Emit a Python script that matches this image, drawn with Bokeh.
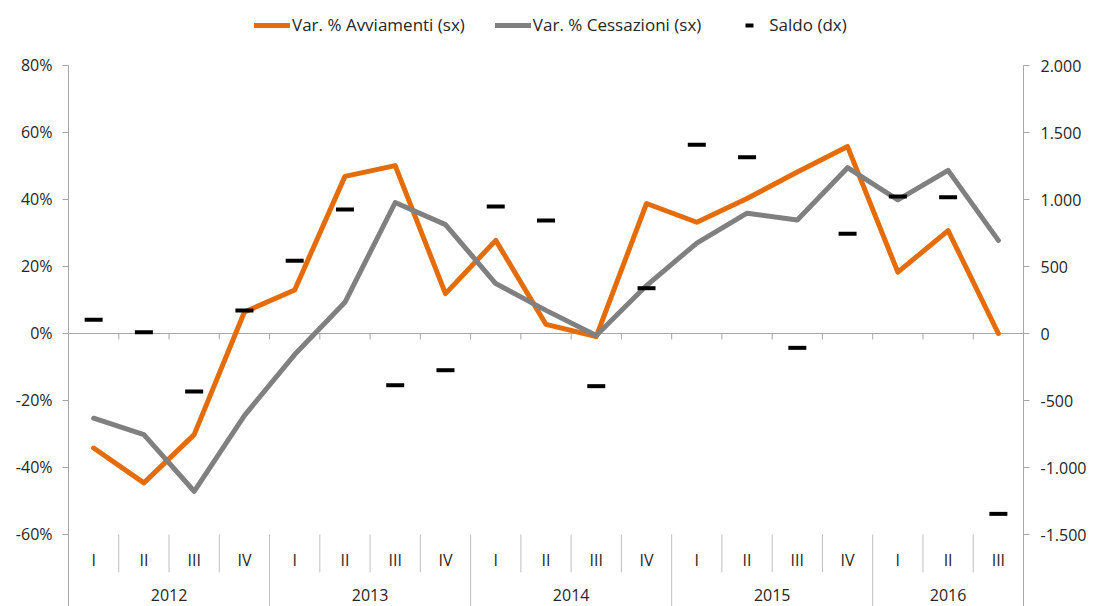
from bokeh.plotting import figure
from bokeh.models import (Range1d, LinearAxis, FixedTicker, CustomJSTickFormatter,
                          Legend, LegendItem, ColumnDataSource)
from bokeh.embed import file_html
from bokeh.resources import INLINE
from bokeh.core.properties import value

# ---------------- data ----------------
years = ["2012", "2013", "2014", "2015", "2016"]
year_sizes = [4, 4, 4, 4, 3]
quarters = ["I", "II", "III", "IV", "I", "II", "III", "IV", "I", "II", "III", "IV",
            "I", "II", "III", "IV", "I", "II", "III"]
avviamenti = [-34.2, -44.6, -30.2, 6.4, 13.0, 46.9, 50.1, 11.9, 27.8, 2.7, -0.9, 38.8,
              33.2, 40.3, 48.2, 55.8, 18.3, 30.7, 0.0]
cessazioni = [-25.3, -30.2, -47.1, -24.5, -6.3, 9.3, 39.1, 32.5, 14.9, 6.9, -0.6, 14.3,
              27.0, 35.9, 33.9, 49.5, 39.9, 48.7, 27.8]
saldo = [102, 10, -433, 172, 543, 925, -386, -274, 948, 843, -393, 338,
         1408, 1316, -107, 744, 1022, 1017, -1346]
left_ticks = [-60, -40, -20, 0, 20, 40, 60, 80]
right_ticks = [-1500, -1000, -500, 0, 500, 1000, 1500, 2000]

# ---------------- styles ----------------
FONT = "Open Sans"
FS = "16px"
TXT = "#262626"
AX = "#A6A6A6"
SEP = "#BFBFBF"
ORANGE = "#E46C0A"
GRAY = "#808080"

n = len(quarters)
centers = [i + 0.5 for i in range(n)]

year_bounds = []
year_centers = []
acc = 0
for s in year_sizes:
    year_centers.append(acc + s / 2)
    acc += s
    year_bounds.append(acc)
inner_year_bounds = year_bounds[:-1]
quarter_bounds = [b for b in range(1, n) if b not in inner_year_bounds]

# value ranges (the frame spans the full figure height; the axes' own ticks stop at 80%)
L_TOP, L_BOT = left_ticks[-1], left_ticks[0]
Y_MAX, Y_MIN = 99.4, -81.5
R_MAX, R_MIN = 2485.1, -2037.3
PAD = 0.0398  # x padding so that the drawn axis lines are not clipped

p = figure(width=1094, height=606, output_backend="svg", toolbar_location=None,
           x_range=Range1d(-PAD, n + PAD), y_range=Range1d(Y_MIN, Y_MAX),
           x_axis_type=None, y_axis_type=None,
           min_border_left=66, min_border_right=69, min_border_top=0, min_border_bottom=0,
           outline_line_color=None, background_fill_color="white")
p.extra_y_ranges = {"saldo": Range1d(R_MIN, R_MAX)}

la = LinearAxis(ticker=FixedTicker(ticks=left_ticks),
                formatter=CustomJSTickFormatter(code="return tick.toFixed(0) + '%';"))
ra = LinearAxis(y_range_name="saldo", ticker=FixedTicker(ticks=right_ticks),
                formatter=CustomJSTickFormatter(code="""
const s = Math.abs(tick).toFixed(0).replace(/\\B(?=(\\d{3})+(?!\\d))/g, '.');
return (tick < 0 ? '-' : '') + s;"""))
for ax in (la, ra):
    ax.axis_line_color = None
    ax.major_tick_line_color = AX
    ax.major_tick_out = 4
    ax.major_tick_in = 2
    ax.minor_tick_line_color = None
    ax.major_label_text_font = FONT
    ax.major_label_text_font_size = FS
    ax.major_label_text_color = TXT
la.major_label_standoff = 10
ra.major_label_standoff = 11
p.add_layout(la, "left")
p.add_layout(ra, "right")

# value-axis lines (from 80% down through the category-label table)
p.segment(x0=[0, n], y0=[L_TOP, L_TOP], x1=[0, n], y1=[Y_MIN, Y_MIN],
          line_color=AX, line_width=1)

# category axis line at zero with tick marks at boundaries
p.segment(x0=[0], y0=[0], x1=[n], y1=[0], line_color=AX, line_width=1)
tick_x = list(range(1, n))
p.segment(x0=tick_x, y0=[0] * len(tick_x), x1=tick_x, y1=[-1.8] * len(tick_x),
          line_color=AX, line_width=1)

# category label table at the bottom
p.segment(x0=quarter_bounds, y0=[L_BOT] * len(quarter_bounds), x1=quarter_bounds,
          y1=[-71.3] * len(quarter_bounds), line_color=SEP, line_width=1)
p.segment(x0=inner_year_bounds, y0=[L_BOT] * len(inner_year_bounds), x1=inner_year_bounds,
          y1=[Y_MIN] * len(inner_year_bounds), line_color=SEP, line_width=1)
p.text(x=centers, y=[-67.7] * n, text=quarters, text_align="center", text_baseline="middle",
       text_font=value(FONT), text_font_size=FS, text_color=TXT)
p.text(x=year_centers, y=[-78.0] * len(years), text=years, text_align="center",
       text_baseline="middle", text_font=value(FONT), text_font_size=FS, text_color=TXT)

src = ColumnDataSource(dict(x=centers, a=avviamenti, c=cessazioni, s=saldo))
r1 = p.line("x", "a", source=src, line_color=ORANGE, line_width=5,
            line_join="round", line_cap="round")
r2 = p.line("x", "c", source=src, line_color=GRAY, line_width=5,
            line_join="round", line_cap="round")
r3 = p.scatter("x", "s", source=src, marker="dash", size=18, line_width=4,
               line_color="black", y_range_name="saldo")

legend = Legend(items=[LegendItem(label="Var. % Avviamenti (sx)", renderers=[r1]),
                       LegendItem(label="Var. % Cessazioni (sx)", renderers=[r2]),
                       LegendItem(label="Saldo (dx)", renderers=[r3])],
                orientation="horizontal", location=(188, 570),
                label_text_font=FONT, label_text_font_size="17px", label_text_color=TXT,
                glyph_width=36, glyph_height=20, label_standoff=2, spacing=30,
                padding=0, margin=0, border_line_alpha=0, background_fill_alpha=0)
p.add_layout(legend, "center")

open("out.html", "w").write(file_html(p, INLINE))
